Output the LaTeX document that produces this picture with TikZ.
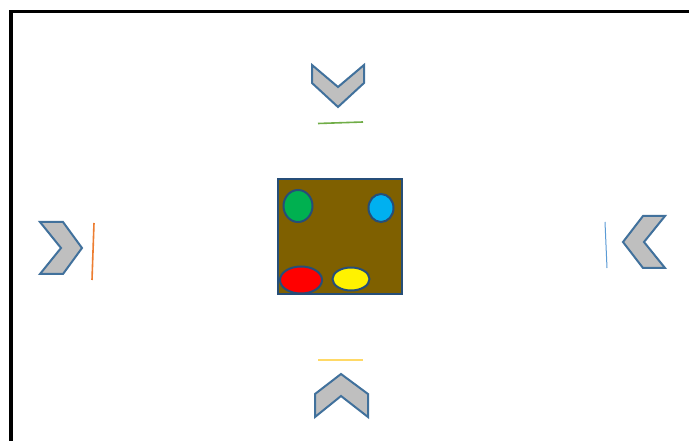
\documentclass[tikz,border=0pt]{standalone}
\begin{document}
\begin{tikzpicture}[x=1pt,y=-1pt,
  chev/.style={draw=chevblue,fill=chevgray,line width=2pt,line join=miter},
  dot/.style={draw=boxblue,line width=2pt},
  tick/.style={line width=1.6pt}]
\definecolor{chevblue}{HTML}{41719C}
\definecolor{chevgray}{HTML}{BFBFBF}
\definecolor{boxblue}{HTML}{264E78}
\definecolor{boxbrown}{HTML}{7F6000}
\definecolor{mgreen}{HTML}{70AD47}
\definecolor{morange}{HTML}{ED7D31}
\definecolor{mblue}{HTML}{5B9BD5}
\definecolor{myellow}{HTML}{FFD966}
\definecolor{dgreen}{HTML}{00B050}
\definecolor{dblue}{HTML}{00B0F0}
\useasboundingbox (0,0) rectangle (689,441);
\fill[white] (0,0) rectangle (689,441);
% frame
\draw[black,line width=3.6pt] (11,445) -- (11,11.5) -- (695,11.5);
% central box
\draw[fill=boxbrown,draw=boxblue,line width=2pt] (278,179) rectangle (402,294);
\draw[dot,fill=dgreen] (298,206) ellipse [x radius=14.5,y radius=16];
\draw[dot,fill=dblue] (381,208) ellipse [x radius=12.5,y radius=14];
\draw[dot,fill=red] (301,280) ellipse [x radius=21,y radius=13.5];
\draw[dot,fill=yellow] (351,279) ellipse [x radius=18.5,y radius=11.5];
% top chevron (down)
\draw[chev] (312,65) -- (338,87) -- (364,65) -- (364,83) -- (338,107) -- (312,83) -- cycle;
\draw[tick,mgreen] (318,123.5) -- (363,122);
% left chevron (right)
\draw[chev] (40,222) -- (63,222) -- (82,248) -- (63,274) -- (40,274) -- (61,248) -- cycle;
\draw[tick,morange] (94,223) -- (92,280);
% right chevron (left)
\draw[chev] (665,216) -- (643,216) -- (623,242) -- (643,268) -- (665,268) -- (644,242) -- cycle;
\draw[line width=1pt,mblue] (605,222) -- (607,268);
% bottom chevron (up)
\draw[chev] (341,374) -- (368,394) -- (368,417) -- (341,396) -- (315,417) -- (315,394) -- cycle;
\draw[tick,myellow] (318,360) -- (363,360);
\end{tikzpicture}
\end{document}
